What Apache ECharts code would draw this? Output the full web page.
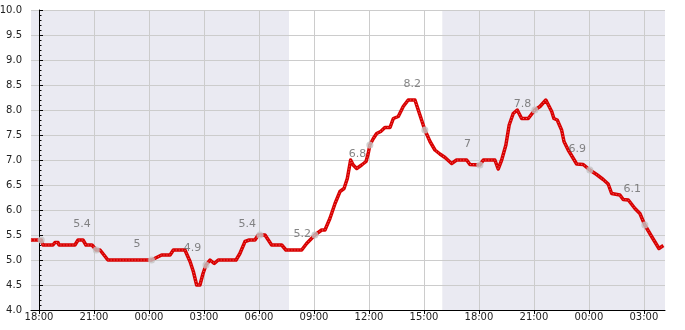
<!DOCTYPE html>
<html>
<head>
<meta charset="utf-8">
<script src="https://cdn.jsdelivr.net/npm/echarts@6/dist/echarts.min.js"></script>
<style>html,body{margin:0;padding:0;background:#fff}#c{width:685px;height:330px}</style>
</head>
<body>
<div id="c"></div>
<script>
// x values are hours counted from 18:00 on the first day
var tickHours = [0, 3, 6, 9, 12, 15, 18, 21, 24, 27, 30, 33];
var tickLabels = ["18:00","21:00","00:00","03:00","06:00","09:00","12:00","15:00","18:00","21:00","00:00","03:00"];
var xMin = -0.436, xMax = 34.15;

var lineHours = [-0.44,0.125,0.22,0.76,0.87,1.04,1.09,1.96,2.13,2.4,2.56,2.89,3.125,3.33,3.76,6.14,
  6.69,7.15,7.33,7.96,8.24,8.42,8.6,8.78,8.95,9.11,9.33,9.56,9.78,10.75,10.96,11.24,11.47,11.78,11.96,12.05,12.33,12.69,13.24,13.47,14.33,14.6,15.05,
  15.42,15.6,15.87,16.15,16.42,16.64,16.82,17.0,17.14,17.33,17.6,17.84,17.96,18.05,18.24,18.42,18.64,18.87,19.15,19.33,19.6,19.87,20.14,20.51,20.78,21.05,
  21.33,21.6,21.87,22.15,22.51,22.78,23.33,23.51,24.05,24.24,24.87,25.05,25.24,25.47,25.65,25.87,26.09,26.33,26.69,27.05,27.33,27.65,
  27.97,28.09,28.27,28.51,28.64,28.87,29.15,29.33,29.69,30.05,30.42,30.78,31.05,31.24,31.69,31.87,32.15,32.51,32.78,33.05,33.42,33.82,34.06];
var lineValues = [5.4,5.4,5.3,5.3,5.35,5.35,5.3,5.3,5.4,5.4,5.3,5.3,5.2,5.2,5.0,5.0,
  5.1,5.1,5.2,5.2,4.97,4.77,4.5,4.5,4.73,4.9,5.0,4.93,5.0,5.0,5.13,5.37,5.4,5.4,5.5,5.5,5.5,5.3,5.3,5.2,5.2,5.33,5.5,
  5.6,5.6,5.83,6.13,6.37,6.43,6.63,7.0,6.9,6.83,6.9,6.97,7.13,7.3,7.43,7.53,7.57,7.65,7.65,7.83,7.87,8.07,8.2,8.2,7.9,7.6,
  7.37,7.2,7.12,7.05,6.93,7.0,7.0,6.91,6.9,7.0,7.0,6.82,7.0,7.3,7.7,7.93,8.0,7.83,7.83,8.0,8.07,8.2,
  7.97,7.83,7.8,7.6,7.37,7.2,7.03,6.92,6.91,6.8,6.71,6.61,6.52,6.33,6.3,6.21,6.2,6.03,5.93,5.7,5.47,5.23,5.29];

var dotHours = [0.125,3.125,6.14,9.11,12.05,15.05,18.05,21.05,24.05,27.05,30.05,33.05];
var dotValues = [5.4,5.2,5.0,4.9,5.5,5.5,7.3,7.6,6.9,8.0,6.8,5.7];

var noteHours = [2.35,5.35,8.38,11.36,14.36,17.38,20.36,23.38,26.38,29.36,32.36];
var noteValues = [5.72,5.32,5.24,5.72,5.51,7.11,8.52,7.31,8.12,7.22,6.41];
var noteTexts = ["5.4","5","4.9","5.4","5.2","6.8","8.2","7","7.8","6.9","6.1"];

var bandStarts = [-0.436, 22.0];
var bandEnds = [13.64, 34.15];

var FONT = 'DejaVu Sans';
var chart = echarts.init(document.getElementById('c'), null, {renderer:'canvas'});

var lineData = lineHours.map(function(h,i){return [h, lineValues[i]];});
var dotData = dotHours.map(function(h,i){return [h, dotValues[i]];});
var noteData = noteHours.map(function(h,i){return [h, noteValues[i], noteTexts[i]];});
var bandData = bandStarts.map(function(s,i){return [s, bandEnds[i]];});

chart.setOption({
  animation:false,
  backgroundColor:'#fff',
  grid:{left:31, right:20, top:10, bottom:20, containLabel:false, outerBoundsMode:'none'},
  xAxis:{
    type:'value', min:xMin, max:xMax,
    axisLine:{show:true, lineStyle:{color:'#000', width:1}},
    axisTick:{show:true, customValues:tickHours, length:4, lineStyle:{color:'#000'}},
    axisLabel:{customValues:tickHours, margin:2, color:'#222', fontSize:10, fontFamily:FONT,
      formatter:function(v){var i=tickHours.indexOf(Math.round(v)); return i>=0?tickLabels[i]:'';}},
    splitLine:{show:true, lineStyle:{color:'#cccccc', width:1}}
  },
  yAxis:{
    type:'value', min:4, max:10, interval:0.5,
    axisLine:{show:true, lineStyle:{color:'#000', width:1}},
    axisTick:{show:true, inside:true, length:4, lineStyle:{color:'#000'}},
    minorTick:{show:true, splitNumber:5, length:2.5, lineStyle:{color:'#000'}},
    axisLabel:{margin:9, color:'#222', fontSize:10, fontFamily:FONT, formatter:function(v){return v.toFixed(1);}},
    splitLine:{show:true, lineStyle:{color:'#cccccc', width:1}}
  },
  series:[
    {
      type:'custom', z:-1, silent:true, data:bandData,
      renderItem:function(params, api){
        var p0 = api.coord([api.value(0), 10]);
        var p1 = api.coord([api.value(1), 4]);
        return {type:'rect', shape:{x:p0[0], y:p0[1], width:p1[0]-p0[0], height:p1[1]-p0[1]},
          style:{fill:'#eaeaf2'}};
      }
    },
    {
      type:'line', data:lineData, showSymbol:false, symbol:'none', z:3,
      lineStyle:{color:'#d80000', width:3.5, join:'round'}
    },
    {
      type:'line', data:lineData, showSymbol:false, symbol:'none', z:3, silent:true,
      lineStyle:{color:'rgba(255,150,150,0.7)', width:1, type:[1,2]}
    },
    {
      type:'scatter', data:dotData, symbolSize:7, z:4,
      itemStyle:{color:'#c4c4c4'}
    },
    {
      type:'scatter', data:noteData, symbolSize:0, z:5,
      label:{show:true, position:'inside', color:'#666', fontSize:11, fontFamily:FONT,
        formatter:function(p){return p.data[2];}}
    }
  ]
});
</script>
</body>
</html>
